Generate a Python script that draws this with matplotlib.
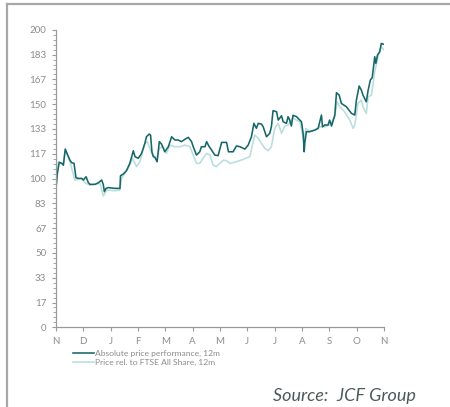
import numpy as np
import matplotlib
matplotlib.use("Agg")
import matplotlib.pyplot as plt
from matplotlib.lines import Line2D
from matplotlib.ticker import FixedLocator, MultipleLocator

# month offsets from the start of the 12m window (0 = Nov, 12 = Nov)
abs_months = [0.00, 0.05, 0.12, 0.22, 0.27, 0.34, 0.43, 0.51, 0.57, 0.66,
              0.73, 0.82, 0.94, 1.00, 1.10, 1.18, 1.24, 1.43, 1.55, 1.67,
              1.73, 1.77, 1.83, 1.91, 2.16, 2.34, 2.36, 2.46, 2.58, 2.70,
              2.83, 2.89, 3.01, 3.13, 3.25, 3.31, 3.41, 3.46, 3.51, 3.56,
              3.62, 3.70, 3.78, 3.86, 3.98, 4.11, 4.23, 4.35, 4.47, 4.59,
              4.71, 4.84, 4.96, 5.02, 5.14, 5.26, 5.32, 5.45, 5.51, 5.59,
              5.69, 5.81, 5.93, 6.06, 6.24, 6.31, 6.48, 6.60, 6.73, 6.91,
              7.03, 7.15, 7.24, 7.33, 7.40, 7.52, 7.58, 7.70, 7.82, 7.88,
              7.94, 8.07, 8.13, 8.25, 8.31, 8.43, 8.49, 8.55, 8.61, 8.67,
              8.80, 8.92, 8.98, 9.04, 9.08, 9.10, 9.16, 9.28, 9.47, 9.59,
              9.71, 9.75, 9.83, 9.95, 10.01, 10.08, 10.20, 10.26, 10.36, 10.44,
              10.62, 10.81, 10.93, 10.99, 11.09, 11.17, 11.23, 11.35, 11.42, 11.50,
              11.57, 11.66, 11.70, 11.76, 11.84, 11.90, 12.00]
abs_perf = [93.4, 103.5, 110.9, 110.2, 109.0, 119.8, 115.8, 112.4, 110.7, 110.2,
            100.6, 100.1, 100.1, 99.0, 101.2, 97.4, 96.1, 96.1, 97.2, 99.0,
            96.0, 91.2, 93.4, 93.9, 93.4, 93.4, 101.9, 103.0, 105.3, 110.2,
            118.7, 114.7, 113.6, 116.9, 123.6, 128.1, 129.9, 129.2, 118.0, 114.7,
            114.2, 111.3, 124.8, 123.2, 118.0, 121.4, 128.1, 125.9, 125.9, 124.8,
            126.3, 127.7, 124.8, 121.4, 115.8, 118.0, 121.4, 121.4, 124.8, 121.9,
            119.2, 115.8, 115.4, 124.3, 124.3, 118.0, 118.0, 121.9, 121.4, 119.8,
            122.5, 128.1, 137.1, 133.8, 137.1, 136.6, 134.8, 128.1, 130.4, 134.8,
            145.6, 144.9, 139.3, 142.2, 138.2, 137.1, 141.6, 139.3, 135.3, 142.5,
            141.6, 139.3, 138.2, 130.4, 118.0, 123.6, 131.5, 131.5, 132.6, 133.7,
            142.7, 134.8, 136.0, 136.0, 139.3, 135.3, 142.7, 157.7, 156.1, 150.5,
            148.3, 143.8, 142.7, 152.8, 162.2, 159.5, 156.1, 151.6, 159.5, 166.2,
            168.0, 181.9, 177.4, 183.0, 185.2, 190.8, 190.2]

rel_months = [0.00, 0.09, 0.27, 0.34, 0.51, 0.69, 0.94, 1.06, 1.24, 1.61,
              1.73, 1.85, 2.16, 2.34, 2.40, 2.70, 2.80, 2.95, 3.07, 3.25,
              3.34, 3.41, 3.50, 3.62, 3.68, 3.78, 3.92, 4.04, 4.17, 4.35,
              4.53, 4.71, 4.90, 5.02, 5.14, 5.26, 5.38, 5.51, 5.63, 5.75,
              5.87, 5.99, 6.12, 6.24, 6.36, 6.60, 6.85, 7.09, 7.27, 7.40,
              7.52, 7.64, 7.76, 7.88, 8.00, 8.13, 8.25, 8.37, 8.49, 8.61,
              8.67, 8.80, 8.92, 9.04, 9.08, 9.14, 9.28, 9.47, 9.65, 9.83,
              10.01, 10.20, 10.28, 10.38, 10.56, 10.75, 10.87, 10.93, 11.05, 11.17,
              11.23, 11.35, 11.42, 11.54, 11.66, 11.78, 11.90, 12.00]
rel_perf = [93.4, 111.3, 109.0, 119.2, 111.3, 99.0, 100.1, 97.2, 95.6, 96.8,
            88.3, 92.3, 91.8, 92.3, 100.1, 109.0, 113.6, 108.0, 111.3, 123.6,
            124.8, 121.4, 116.9, 114.7, 112.4, 120.3, 121.4, 116.9, 122.5, 121.4,
            121.4, 122.5, 121.4, 115.8, 110.2, 110.2, 113.6, 116.9, 115.8, 109.0,
            108.0, 110.2, 112.4, 112.0, 110.2, 111.3, 112.9, 114.7, 129.2, 127.0,
            123.6, 120.3, 118.7, 121.4, 133.7, 137.1, 130.4, 135.3, 136.0, 139.3,
            140.7, 139.3, 138.2, 128.1, 125.9, 133.7, 131.5, 132.6, 134.8, 134.8,
            136.0, 141.6, 151.6, 148.3, 144.9, 139.3, 133.7, 136.0, 150.5, 152.8,
            148.3, 143.8, 155.0, 156.1, 171.8, 181.9, 188.6, 186.4]

month_labels = ["N", "D", "J", "F", "M", "A", "M", "J", "J", "A", "S", "O", "N"]
y_ticks = [0, 17, 33, 50, 67, 83, 100, 117, 133, 150, 167, 183, 200]

dark = "#17676a"
light = "#b9dedb"
grey_txt = "#8c8c8c"
grey_axis = "#9a9a9a"

plt.rcParams["font.family"] = ["Lato", "DejaVu Sans"]

fig = plt.figure(figsize=(4.5, 4.07), dpi=100)
ax = fig.add_axes([0.1244, 0.1958, 0.729, 0.731])

ax.plot(rel_months, rel_perf, color=light, lw=1.15,
        label="Price rel. to FTSE All Share, 12m")
ax.plot(abs_months, abs_perf, color=dark, lw=1.15,
        label="Absolute price performance, 12m")

ax.set_xlim(0, 12)
ax.set_ylim(0, 200)

ax.xaxis.set_major_locator(FixedLocator(range(13)))
ax.set_xticklabels(month_labels)
ax.yaxis.set_major_locator(FixedLocator([k * 200 / 12 for k in range(13)]))
ax.set_yticklabels([str(v) for v in y_ticks])
ax.yaxis.set_minor_locator(MultipleLocator(200 / 60))

for side in ("top", "right"):
    ax.spines[side].set_visible(False)
for side in ("left", "bottom"):
    ax.spines[side].set_color(grey_axis)
    ax.spines[side].set_linewidth(0.9)

ax.tick_params(axis="both", which="major", length=3, width=0.8,
               color=grey_axis, labelcolor=grey_txt, labelsize=7, pad=4)
ax.tick_params(axis="y", which="minor", length=2, width=0.6, color=grey_axis)

handles, labels = ax.get_legend_handles_labels()
fig.legend(handles[::-1], labels[::-1], loc="upper left",
           bbox_to_anchor=(0.155, 0.148), frameon=False, fontsize=6.1,
           handlelength=2.5, handletextpad=0.1, labelspacing=0.2,
           borderaxespad=0, labelcolor=grey_txt)

fig.text(0.925, 0.028, "Source:  JCF Group", ha="right", va="center",
         fontsize=13, style="italic", color="#4d5a5a")

# page frame lines along the top and left edge
fig.add_artist(Line2D([0.016, 1.0], [0.99, 0.99], color="#a8a8a8", lw=1.6,
                      transform=fig.transFigure))
fig.add_artist(Line2D([0.016, 0.016], [0.0, 0.99], color="#a8a8a8", lw=1.6,
                      transform=fig.transFigure))

fig.savefig("out.png", dpi=100)
